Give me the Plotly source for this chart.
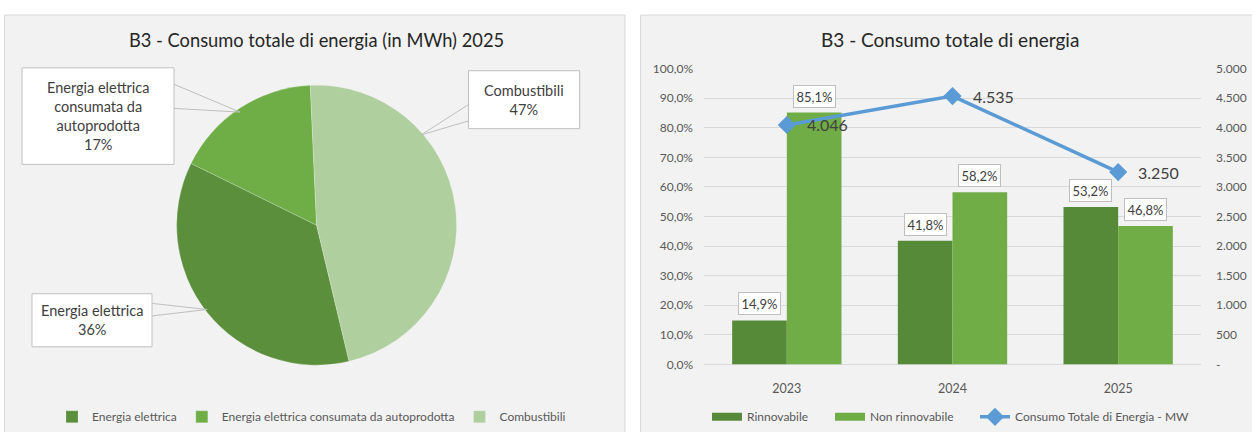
import math
import plotly.graph_objects as go

W, H = 1252, 432

# ---------------- data ----------------
pie_labels = ["Energia elettrica", "Energia elettrica consumata da autoprodotta", "Combustibili"]
pie_values = [36, 17, 47]
pie_callout_names = ["Energia elettrica", "Energia elettrica<br>consumata da<br>autoprodotta", "Combustibili"]
pie_colors = ["#5b8f3b", "#6fad47", "#b0cf9f"]

years = ["2023", "2024", "2025"]
rinnovabile = [14.9, 41.8, 53.2]
non_rinnovabile = [85.1, 58.2, 46.8]
consumo_totale = [4046, 4535, 3250]

left_tickvals = list(range(0, 101, 10))
right_tickvals = list(range(0, 5001, 500))


def px(x):
    return x / W


def py(y):
    return 1 - y / H


def fmt_pct(v):
    return f"{v:.1f}".replace(".", ",") + "%"


def fmt_num(v):
    return f"{v:,}".replace(",", ".")


left_ticktext = [fmt_pct(v) for v in left_tickvals]
right_ticktext = ["-" if v == 0 else fmt_num(v) for v in right_tickvals]

FONT = "Lato"
GRAY_TXT = "#595959"
DARK_TXT = "#404040"
BORDER = "#bfbfbf"
C_RINN = "#578a38"
C_NON = "#70ad47"
C_LINE = "#5b9bd5"

fig = go.Figure()

# ---------------- pie ----------------
CX, CY, R = 316.6, 225.0, 140.0
RD = 145.0  # domain half-size so that the drawn radius is ~R
ROT = 166.6
fig.add_trace(go.Pie(
    labels=pie_labels, values=pie_values, sort=False, direction="clockwise",
    rotation=ROT, textinfo="none", hoverinfo="label+percent",
    marker=dict(colors=pie_colors, line=dict(color="rgba(255,255,255,0.35)", width=0.6)),
    domain=dict(x=[px(CX - RD), px(CX + RD)], y=[py(CY + RD), py(CY - RD)]),
    legend="legend", showlegend=True,
))

# ---------------- bars + line ----------------
fig.add_trace(go.Bar(x=years, y=rinnovabile, name="Rinnovabile",
                     marker=dict(color=C_RINN, line=dict(width=0)), showlegend=False))
fig.add_trace(go.Bar(x=years, y=non_rinnovabile, name="Non rinnovabile",
                     marker=dict(color=C_NON, line=dict(width=0)), showlegend=False))
fig.add_trace(go.Scatter(x=years, y=consumo_totale, name="Consumo Totale di Energia - MW",
                         yaxis="y2", mode="lines+markers",
                         line=dict(color=C_LINE, width=3.5),
                         marker=dict(symbol="diamond", size=14, color=C_LINE),
                         legend="legend4"))
# legend keys for the bars (wide Excel-like rectangles)
fig.add_trace(go.Scatter(x=[None], y=[None], mode="lines", name="Rinnovabile",
                         line=dict(color=C_RINN, width=8), legend="legend2", hoverinfo="skip"))
fig.add_trace(go.Scatter(x=[None], y=[None], mode="lines", name="Non rinnovabile",
                         line=dict(color=C_NON, width=8), legend="legend3", hoverinfo="skip"))

shapes = []
annotations = []

# panels
shapes.append(dict(type="rect", xref="paper", yref="paper", x0=px(4.5), x1=px(625), y0=py(440), y1=py(7.3),
                   fillcolor="#f2f2f2", line=dict(color="#d9d9d9", width=1), layer="below"))
shapes.append(dict(type="rect", xref="paper", yref="paper", x0=px(640.5), x1=px(1262), y0=py(440), y1=py(7.3),
                   fillcolor="#f2f2f2", line=dict(color="#d9d9d9", width=1), layer="below"))

# titles
annotations.append(dict(text="B3 - Consumo totale di energia (in MWh) 2025", xref="paper", yref="paper",
                        x=px(316), y=py(33), xanchor="center", yanchor="middle", showarrow=False,
                        font=dict(family=FONT, size=18.3, color="#262626")))
annotations.append(dict(text="B3 - Consumo totale di energia", xref="paper", yref="paper",
                        x=px(950), y=py(33), xanchor="center", yanchor="middle", showarrow=False,
                        font=dict(family=FONT, size=19, color="#262626")))

# pie callouts (box in px: x0, y0, x1, y1; leader attach side y's; fraction within slice)
callouts = [
    dict(box=(32, 296, 152, 351), side="right", ys=(306, 319), frac=0.5),
    dict(box=(22, 62, 174, 162), side="right", ys=(79, 104), frac=0.5),
    dict(box=(468.5, 65, 579.6, 125), side="left", ys=(100, 117), frac=0.3),
]
total = sum(pie_values)
cum = 0
for i, v in enumerate(pie_values):
    start = ROT + 360 * cum / total
    sweep = 360 * v / total
    cum += v
    c = callouts[i]
    a = math.radians(start + c["frac"] * sweep)
    ex = CX + R * math.sin(a)
    ey = CY - R * math.cos(a)
    x0, y0, x1, y1 = c["box"]
    bx = x1 if c["side"] == "right" else x0
    shapes.append(dict(type="path", xref="paper", yref="paper",
                       path=f"M {px(bx)},{py(c['ys'][0])} L {px(ex)},{py(ey)} L {px(bx)},{py(c['ys'][1])}",
                       line=dict(color=BORDER, width=1)))
    shapes.append(dict(type="rect", xref="paper", yref="paper", x0=px(x0), x1=px(x1), y0=py(y1), y1=py(y0),
                       fillcolor="white", line=dict(color=BORDER, width=1)))
    annotations.append(dict(text=f"{pie_callout_names[i]}<br>{v}%", xref="paper", yref="paper",
                            x=px((x0 + x1) / 2), y=py((y0 + y1) / 2), xanchor="center", yanchor="middle",
                            showarrow=False, align="center",
                            font=dict(family=FONT, size=14.5, color=DARK_TXT)))

# bar data labels + line labels
OFF = 0.165
for i, yr in enumerate(years):
    for val, off in ((rinnovabile[i], -OFF), (non_rinnovabile[i], OFF)):
        annotations.append(dict(text=fmt_pct(val), xref="x", yref="y", x=i + off, y=val,
                                xanchor="center", yanchor="bottom", yshift=5, showarrow=False,
                                bgcolor="white", bordercolor=BORDER, borderwidth=1, borderpad=2.5,
                                font=dict(family=FONT, size=13, color=DARK_TXT)))
    annotations.append(dict(text=fmt_num(consumo_totale[i]), xref="x", yref="y2", x=i, y=consumo_totale[i],
                            xanchor="left", yanchor="middle", xshift=18, showarrow=False,
                            font=dict(family=FONT, size=16, color=DARK_TXT)))

leg_common = dict(orientation="h", yanchor="middle", xanchor="left", y=py(423.5),
                  bgcolor="rgba(0,0,0,0)", font=dict(family=FONT, size=12, color=GRAY_TXT),
                  itemwidth=30, traceorder="normal")

fig.update_layout(
    width=W, height=H, margin=dict(l=0, r=0, t=0, b=0),
    paper_bgcolor="white", plot_bgcolor="rgba(0,0,0,0)",
    font=dict(family=FONT, size=12, color=GRAY_TXT),
    separators=",.",
    barmode="group", bargap=0.34, bargroupgap=0,
    xaxis=dict(domain=[px(704), px(1201)], type="category", range=[-0.5, 2.5],
               showgrid=False, showline=False, zeroline=False, ticks="",
               ticklabelstandoff=15, tickfont=dict(family=FONT, size=12.5, color=GRAY_TXT)),
    yaxis=dict(domain=[py(369.3), py(62.7)], range=[0, 100], tickvals=left_tickvals,
               ticktext=left_ticktext, showgrid=True, gridcolor="#d9d9d9", gridwidth=1,
               zeroline=True, zerolinecolor="#d9d9d9", zerolinewidth=1, showline=False, ticks="",
               ticklabelstandoff=10, tickfont=dict(family=FONT, size=12, color=GRAY_TXT)),
    yaxis2=dict(overlaying="y", side="right", range=[0, 5000], tickvals=right_tickvals,
                ticktext=right_ticktext, showgrid=False, zeroline=False, showline=False, ticks="",
                ticklabelstandoff=14, tickfont=dict(family=FONT, size=12, color=GRAY_TXT)),
    legend=dict(leg_common, x=px(52)),
    legend2=dict(leg_common, x=px(707)),
    legend3=dict(leg_common, x=px(830)),
    legend4=dict(leg_common, x=px(975)),
    shapes=shapes, annotations=annotations,
)

fig.write_html("out.html", config={"displayModeBar": False},
               post_script="document.body.style.margin='0';document.body.style.overflow='hidden';")
